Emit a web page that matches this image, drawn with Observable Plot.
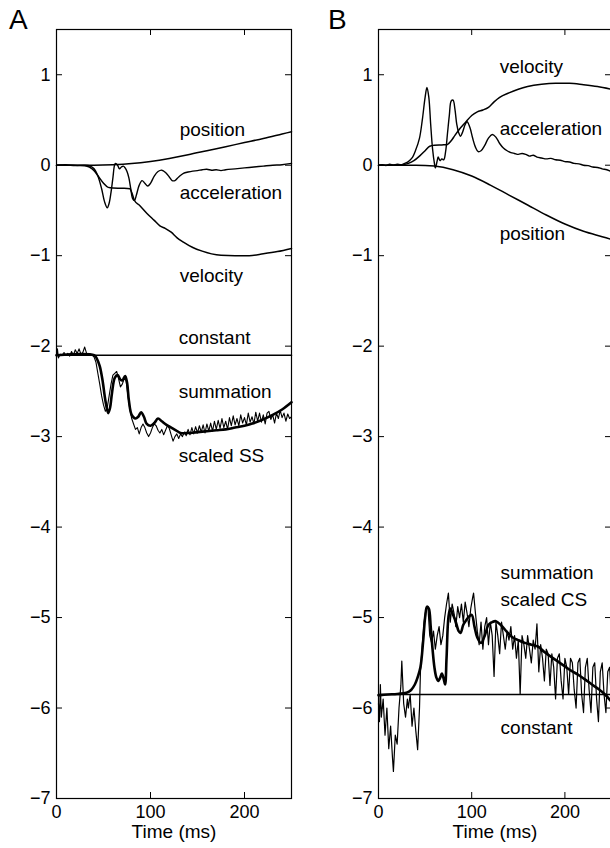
<!DOCTYPE html>
<html><head><meta charset="utf-8">
<script src="https://cdn.jsdelivr.net/npm/d3@7"></script>
<script src="https://cdn.jsdelivr.net/npm/@observablehq/plot@0.6"></script>
<style>
html,body{margin:0;padding:0;background:#fff;overflow:hidden;}
#wrap{position:relative;width:615px;height:848px;display:flex;}
.panel{position:relative;height:848px;flex:none;}
.letter{position:absolute;top:6px;font-family:"Liberation Sans",Arial,sans-serif;font-size:28px;line-height:1;color:#000;}
svg{display:block;}
</style></head><body>
<div id="wrap">
  <div class="panel" id="pa" style="width:305px"><div class="letter" style="left:9px">A</div></div>
  <div class="panel" id="pb" style="width:310px"><div class="letter" style="left:23px">B</div></div>
</div>
<script>
// ---------- tick values ----------
const yTicks = [1, 0, -1, -2, -3, -4, -5, -6, -7];
const xTicks = [0, 100, 200];
const xLabel = "Time (ms)";

// ---------- Panel A series: [time ms, value] ----------
const positionA = [[0,0],[40,0],[60,0.005],[80,0.018],[100,0.042],[120,0.075],[140,0.115],[160,0.16],[180,0.205],[200,0.25],[220,0.295],[240,0.345],[250,0.37]];
const accelerationA = [[0,0],[10,0.005],[20,-0.005],[30,0],[36,-0.01],[40,-0.04],[44,-0.12],[48,-0.26],[51,-0.4],[54,-0.47],[56,-0.42],[58,-0.3],[60,-0.14],[62,0.01],[63,0.02],[65,0.0],[67,-0.04],[69,-0.02],[71,-0.01],[73,-0.03],[75,-0.07],[77,-0.14],[79,-0.26],[81,-0.37],[83,-0.39],[85,-0.33],[88,-0.22],[91,-0.17],[94,-0.2],[97,-0.23],[100,-0.2],[104,-0.12],[108,-0.07],[112,-0.055],[116,-0.08],[120,-0.13],[123,-0.17],[126,-0.17],[130,-0.13],[135,-0.09],[140,-0.075],[145,-0.065],[150,-0.06],[155,-0.05],[160,-0.045],[165,-0.055],[170,-0.05],[175,-0.06],[180,-0.05],[190,-0.04],[200,-0.03],[210,-0.02],[220,-0.01],[230,0],[240,0.005],[250,0.02]];
const velocityA = [[0,0],[20,0],[30,-0.005],[35,-0.02],[40,-0.06],[45,-0.13],[50,-0.2],[55,-0.245],[60,-0.252],[70,-0.255],[78,-0.26],[80,-0.3],[83,-0.39],[88,-0.44],[96,-0.53],[104,-0.61],[110,-0.67],[116,-0.7],[122,-0.74],[128,-0.8],[135,-0.85],[145,-0.91],[155,-0.95],[165,-0.98],[175,-0.995],[190,-1.0],[205,-1.0],[220,-0.98],[235,-0.955],[250,-0.92]];
const constantA = [[0,-2.1],[250,-2.1]];
const summationA = [[0,-2.1],[40,-2.1],[43,-2.14],[46,-2.22],[49,-2.38],[52,-2.6],[55,-2.74],[57,-2.68],[59,-2.52],[62,-2.35],[65,-2.32],[68,-2.37],[70,-2.38],[73,-2.33],[75,-2.4],[77,-2.6],[80,-2.76],[84,-2.8],[87,-2.78],[90,-2.73],[93,-2.78],[96,-2.86],[100,-2.88],[104,-2.85],[108,-2.8],[112,-2.83],[117,-2.87],[122,-2.9],[127,-2.93],[132,-2.96],[140,-2.96],[150,-2.95],[160,-2.94],[170,-2.93],[180,-2.92],[190,-2.9],[200,-2.88],[210,-2.85],[220,-2.81],[230,-2.76],[240,-2.7],[250,-2.62]];
const scaledSS = [[0,-2.12],[1,-2.03],[2,-2.13],[4,-2.09],[6,-2.1],[8,-2.07],[10,-2.1],[12,-2.08],[14,-2.11],[16,-2.06],[18,-2.1],[20,-2.04],[22,-2.08],[24,-2.03],[26,-2.09],[28,-2.07],[30,-2.01],[32,-2.08],[34,-2.1],[36,-2.09],[38,-2.1],[40,-2.12],[42,-2.18],[44,-2.3],[46,-2.42],[48,-2.55],[50,-2.65],[52,-2.72],[54,-2.68],[56,-2.55],[58,-2.42],[60,-2.32],[62,-2.3],[64,-2.28],[66,-2.36],[68,-2.45],[70,-2.42],[72,-2.36],[74,-2.38],[76,-2.55],[78,-2.7],[80,-2.8],[82,-2.86],[84,-2.92],[86,-2.9],[88,-2.97],[90,-2.9],[92,-2.86],[94,-2.9],[96,-2.96],[98,-3.0],[100,-2.96],[102,-2.9],[104,-2.86],[106,-2.88],[108,-2.93],[110,-2.96],[112,-2.92],[114,-2.98],[116,-2.93],[118,-2.88],[120,-2.91],[122,-2.98],[124,-3.05],[126,-3.0],[128,-2.97],[130,-3.02],[132,-2.97],[134,-3.0],[136,-2.95],[138,-2.99],[140,-2.92],[142,-2.98],[144,-2.9],[146,-2.97],[148,-2.89],[150,-2.96],[152,-2.88],[154,-2.95],[156,-2.87],[158,-2.96],[160,-2.86],[162,-2.94],[164,-2.85],[166,-2.94],[168,-2.83],[170,-2.92],[172,-2.82],[174,-2.91],[176,-2.8],[178,-2.9],[180,-2.83],[182,-2.92],[184,-2.79],[186,-2.88],[188,-2.77],[190,-2.87],[192,-2.8],[194,-2.88],[196,-2.76],[198,-2.85],[200,-2.79],[202,-2.87],[204,-2.74],[206,-2.84],[208,-2.78],[210,-2.86],[212,-2.73],[214,-2.83],[216,-2.74],[218,-2.84],[220,-2.76],[222,-2.86],[224,-2.74],[226,-2.72],[228,-2.81],[230,-2.76],[232,-2.85],[234,-2.74],[236,-2.8],[238,-2.71],[240,-2.79],[242,-2.74],[244,-2.83],[246,-2.75],[248,-2.8],[250,-2.78]];

// ---------- Panel B series ----------
const velocityB = [[0,0],[25,0.005],[32,0.02],[38,0.05],[44,0.1],[50,0.16],[55,0.21],[60,0.22],[70,0.225],[74,0.23],[78,0.27],[82,0.33],[87,0.4],[93,0.47],[100,0.55],[106,0.59],[112,0.61],[118,0.64],[124,0.7],[130,0.75],[140,0.8],[150,0.84],[160,0.87],[175,0.895],[190,0.905],[205,0.905],[220,0.89],[235,0.87],[250,0.84]];
const accelerationB = [[0,0],[4,0.005],[8,-0.005],[12,0.01],[16,0],[20,0.01],[24,0.005],[28,0.02],[32,0.04],[36,0.08],[40,0.17],[44,0.3],[47,0.5],[50,0.75],[52,0.86],[54,0.75],[56,0.45],[58,0.18],[60,0.02],[61,-0.03],[63,0.05],[64,0.09],[66,0.05],[68,0.07],[70,0.06],[72,0.15],[74,0.35],[76,0.55],[78,0.71],[80,0.72],[82,0.62],[84,0.45],[86,0.36],[88,0.32],[90,0.36],[93,0.45],[95,0.48],[98,0.42],[101,0.3],[104,0.2],[107,0.15],[110,0.16],[114,0.22],[118,0.3],[122,0.34],[126,0.31],[130,0.24],[134,0.19],[138,0.16],[142,0.14],[146,0.13],[150,0.12],[154,0.13],[158,0.12],[162,0.1],[166,0.11],[170,0.09],[175,0.08],[180,0.07],[185,0.075],[190,0.06],[195,0.055],[200,0.04],[205,0.035],[210,0.02],[215,0.015],[220,0.0],[225,-0.005],[230,-0.02],[235,-0.025],[240,-0.04],[245,-0.05],[250,-0.07]];
const positionB = [[0,0],[40,0],[60,-0.01],[80,-0.05],[100,-0.12],[120,-0.22],[140,-0.33],[160,-0.44],[180,-0.55],[200,-0.65],[220,-0.73],[240,-0.79],[250,-0.82]];
const summationB = [[0,-5.86],[10,-5.85],[20,-5.845],[30,-5.83],[35,-5.8],[39,-5.74],[42,-5.66],[45,-5.55],[48,-5.25],[50,-5.0],[52,-4.88],[54,-4.9],[56,-5.1],[58,-5.35],[60,-5.55],[62,-5.66],[64,-5.7],[66,-5.67],[68,-5.62],[70,-5.68],[71.5,-5.74],[73,-5.45],[75,-5.0],[77,-4.9],[80,-4.97],[83,-5.05],[86,-5.15],[88,-5.17],[91,-5.08],[94,-5.03],[97,-4.99],[100,-4.97],[103,-5.1],[106,-5.22],[110,-5.28],[114,-5.2],[118,-5.08],[122,-5.05],[126,-5.04],[132,-5.09],[138,-5.16],[144,-5.22],[150,-5.25],[157,-5.28],[164,-5.3],[171,-5.32],[178,-5.38],[186,-5.44],[193,-5.49],[200,-5.54],[207,-5.59],[214,-5.63],[221,-5.68],[229,-5.74],[236,-5.79],[243,-5.85],[250,-5.93]];
const scaledCS = [[0,-5.95],[1,-6.15],[2,-5.74],[3,-6.1],[5,-5.9],[7,-6.3],[9,-6.0],[11,-6.45],[13,-6.2],[15,-6.55],[16,-6.7],[18,-6.3],[20,-6.4],[22,-6.0],[24,-5.75],[25,-5.48],[27,-5.95],[29,-6.1],[31,-5.9],[32,-6.0],[34,-5.85],[36,-6.2],[38,-6.0],[40,-6.25],[42,-6.46],[44,-6.0],[45,-5.6],[47,-5.3],[49,-5.05],[51,-4.9],[53,-4.88],[55,-5.2],[57,-5.28],[59,-5.15],[61,-5.35],[63,-5.2],[65,-5.1],[67,-5.3],[69,-5.2],[71,-5.0],[73,-4.85],[75,-4.73],[77,-5.05],[79,-4.85],[81,-4.95],[83,-5.1],[85,-4.88],[87,-5.0],[89,-4.85],[91,-5.05],[93,-4.83],[95,-4.95],[97,-5.1],[99,-4.9],[101,-4.78],[102,-4.73],[104,-4.95],[106,-5.15],[108,-5.3],[110,-5.05],[112,-5.35],[114,-5.1],[116,-5.0],[118,-5.3],[120,-5.05],[122,-5.2],[124,-5.65],[126,-5.05],[128,-5.2],[130,-5.4],[132,-5.05],[134,-5.2],[136,-5.35],[138,-5.15],[140,-5.25],[142,-5.1],[144,-5.35],[146,-5.2],[148,-5.45],[150,-5.25],[152,-5.85],[154,-5.2],[156,-5.3],[158,-5.45],[160,-5.2],[162,-5.35],[164,-5.5],[166,-5.25],[168,-5.35],[170,-5.07],[172,-5.6],[174,-5.3],[176,-5.45],[178,-5.7],[180,-5.35],[182,-5.4],[184,-5.75],[186,-5.4],[188,-5.55],[190,-5.9],[192,-5.45],[194,-5.4],[196,-5.7],[198,-5.9],[200,-5.45],[202,-5.55],[204,-5.85],[206,-5.45],[208,-5.5],[210,-5.8],[212,-6.0],[214,-5.5],[216,-5.45],[218,-5.85],[220,-6.05],[222,-5.55],[224,-5.45],[226,-5.8],[228,-6.05],[230,-5.55],[232,-5.5],[234,-5.9],[236,-6.15],[238,-5.6],[240,-5.5],[242,-5.85],[244,-6.05],[246,-5.6],[248,-5.55],[250,-5.95]];
const constantB = [[0,-5.85],[250,-5.85]];

// ---------- curve labels (text, time, value) ----------
const labelTextA = ["position","acceleration","velocity","constant","summation","scaled SS"];
const labelTimeA = [131,131,131,130,130,130];
const labelValA  = [0.39,-0.31,-1.22,-1.91,-2.51,-3.21];
const labelTextB = ["velocity","acceleration","position","summation","scaled CS","constant"];
const labelTimeB = [130,130,130,131,131,131];
const labelValB  = [1.09,0.40,-0.76,-4.51,-4.81,-6.22];

const FONT = '"Liberation Sans", Arial, Helvetica, sans-serif';
const H = 848, MT = 29, MB = 50;
const fmt = d3.format("d");

function panel({width, marginLeft, marginRight, lines, labelText, labelTime, labelVal}) {
  const fw = width - marginLeft - marginRight;
  const fh = H - MT - MB;
  const labels = labelText.map((t, i) => ({t, x: labelTime[i], y: labelVal[i]}));
  const marks = [
    Plot.frame({stroke: "black", strokeWidth: 1.2}),
    Plot.ruleY(yTicks, {y: d => d, insetRight: fw - 6, stroke: "black"}),
    Plot.ruleY(yTicks, {y: d => d, insetLeft: fw - 6, stroke: "black"}),
    Plot.ruleX(xTicks, {x: d => d, insetTop: fh - 6, stroke: "black"}),
    Plot.ruleX(xTicks, {x: d => d, insetBottom: fh - 6, stroke: "black"}),
    Plot.axisY(yTicks, {tickSize: 0, tickPadding: 6, fontSize: 18, tickFormat: fmt, label: null}),
    Plot.axisX(xTicks, {tickSize: 0, tickPadding: 7, fontSize: 18, tickFormat: fmt, label: null}),
    ...lines.map(([data, w, curve]) => Plot.line(data, {x: d => d[0], y: d => d[1], stroke: "black", strokeWidth: w, curve})),
    Plot.text(labels, {x: "x", y: "y", text: "t", textAnchor: "start", fontSize: 19, fill: "black"}),
    Plot.text([xLabel], {text: d => d, frameAnchor: "bottom", dy: 39, fontSize: 19, fill: "black"})
  ];
  return Plot.plot({
    width, height: H,
    marginLeft, marginRight, marginTop: MT, marginBottom: MB,
    x: {domain: [0, 250]},
    y: {domain: [-7, 1.5]},
    style: {fontFamily: FONT, fontSize: "18px", background: "white", color: "black", maxWidth: "none"},
    marks
  });
}

document.getElementById("pa").prepend(panel({
  width: 305, marginLeft: 56, marginRight: 14,
  lines: [
    [positionA, 1.5, "monotone-x"],
    [accelerationA, 1.4, "catmull-rom"],
    [velocityA, 1.5, "monotone-x"],
    [constantA, 1.6, "linear"],
    [scaledSS, 1.1, "linear"],
    [summationA, 2.6, "catmull-rom"]
  ],
  labelText: labelTextA, labelTime: labelTimeA, labelVal: labelValA
}));
document.getElementById("pb").prepend(panel({
  width: 310, marginLeft: 73, marginRight: 4,
  lines: [
    [velocityB, 1.5, "monotone-x"],
    [accelerationB, 1.4, "catmull-rom"],
    [positionB, 1.5, "monotone-x"],
    [constantB, 1.6, "linear"],
    [scaledCS, 1.2, "linear"],
    [summationB, 2.6, "catmull-rom"]
  ],
  labelText: labelTextB, labelTime: labelTimeB, labelVal: labelValB
}));
</script>
</body></html>
